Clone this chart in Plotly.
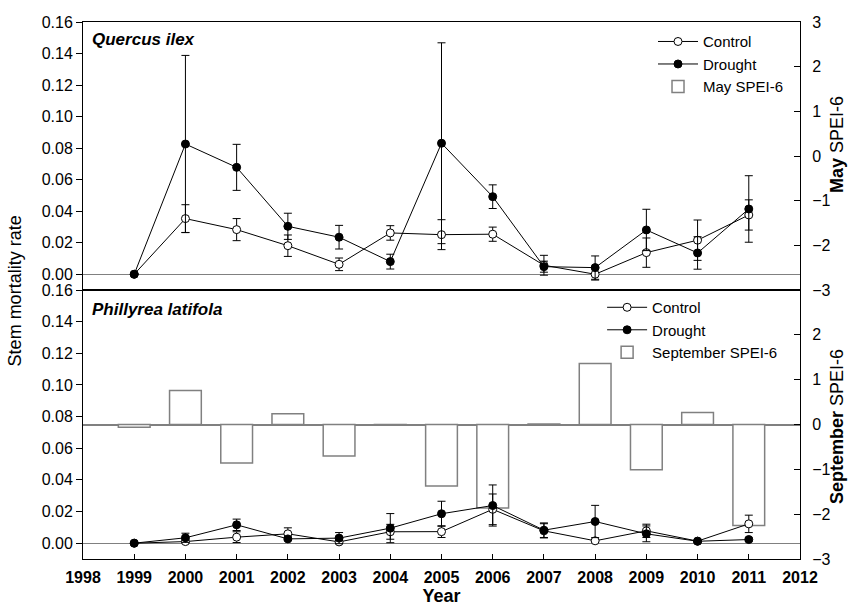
import plotly.graph_objects as go

years = [1999, 2000, 2001, 2002, 2003, 2004, 2005, 2006, 2007, 2008, 2009, 2010, 2011]

# Quercus ilex (top panel)
q_control = [0, 0.0353, 0.0283, 0.0181, 0.0063, 0.0262, 0.0251, 0.0254, 0.0057, 0.0, 0.0137, 0.0216, 0.0376]
q_control_se = [0, 0.0088, 0.0070, 0.0068, 0.0040, 0.0046, 0.0095, 0.0045, 0.0063, 0.0037, 0.0093, 0.0128, 0.0096]
q_drought = [0, 0.0826, 0.0678, 0.0304, 0.0235, 0.0080, 0.0831, 0.0492, 0.0048, 0.0042, 0.0281, 0.0135, 0.0414]
q_drought_se = [0, 0.0562, 0.0146, 0.0083, 0.0075, 0.0047, 0.0637, 0.0075, 0.0035, 0.0074, 0.0131, 0.0103, 0.0211]

# Phillyrea latifola (bottom panel)
p_control = [0, 0.0010, 0.0038, 0.0059, 0.0008, 0.0072, 0.0073, 0.0214, 0.0078, 0.0015, 0.0078, 0.0013, 0.0122]
p_control_se = [0, 0.0010, 0.0034, 0.0038, 0.0008, 0.0047, 0.0037, 0.0097, 0.0045, 0.0008, 0.0042, 0.0005, 0.0055]
p_drought = [0, 0.0034, 0.0116, 0.0027, 0.0032, 0.0095, 0.0186, 0.0238, 0.0082, 0.0137, 0.0059, 0.0012, 0.0023]
p_drought_se = [0, 0.0029, 0.0036, 0.0010, 0.0035, 0.0092, 0.0079, 0.0130, 0.0046, 0.0102, 0.0050, 0.0005, 0.0010]

# September SPEI-6 (bottom panel bars)
sept_spei = [-0.06, 0.76, -0.86, 0.24, -0.70, -0.01, -1.37, -1.86, 0.01, 1.36, -1.01, 0.27, -2.25]

mort_ticks = [0, 0.02, 0.04, 0.06, 0.08, 0.10, 0.12, 0.14, 0.16]
spei_ticks_top = [-3, -2, -1, 0, 1, 2, 3]
spei_ticks_bottom = [-3, -2, -1, 0, 1, 2]
year_ticks = list(range(1998, 2013))

FONT = "Liberation Sans, Arial, sans-serif"
GRAY = "#808080"

fig = go.Figure()

def err(se):
    return dict(type="data", array=se, visible=True, color="black", thickness=1, width=4)

# bottom panel bars on base axis (y), mortality on overlay (y2)
fig.add_trace(go.Bar(x=years, y=sept_spei, width=0.62, name="September SPEI-6",
                     marker=dict(color="white", line=dict(color=GRAY, width=1.5)),
                     xaxis="x", yaxis="y", legend="legend2", legendrank=3))
fig.add_trace(go.Scatter(x=years, y=p_control, error_y=err(p_control_se), mode="lines+markers",
                         name="Control", line=dict(color="black", width=1),
                         marker=dict(symbol="circle", size=8, color="white", line=dict(color="black", width=1)),
                         xaxis="x", yaxis="y2", legend="legend2", legendrank=1))
fig.add_trace(go.Scatter(x=years, y=p_drought, error_y=err(p_drought_se), mode="lines+markers",
                         name="Drought", line=dict(color="black", width=1),
                         marker=dict(symbol="circle", size=8, color="black", line=dict(color="black", width=1)),
                         xaxis="x", yaxis="y2", legend="legend2", legendrank=2))

# top panel (no May SPEI-6 bars are drawn in the reference, only its legend entry)
fig.add_trace(go.Bar(x=[None], y=[None], width=0.62, name="May SPEI-6",
                     marker=dict(color="white", line=dict(color=GRAY, width=1.5)),
                     xaxis="x2", yaxis="y3", legend="legend", legendrank=3))
fig.add_trace(go.Scatter(x=years, y=q_control, error_y=err(q_control_se), mode="lines+markers",
                         name="Control", line=dict(color="black", width=1),
                         marker=dict(symbol="circle", size=8, color="white", line=dict(color="black", width=1)),
                         xaxis="x2", yaxis="y4", legend="legend", legendrank=1))
fig.add_trace(go.Scatter(x=years, y=q_drought, error_y=err(q_drought_se), mode="lines+markers",
                         name="Drought", line=dict(color="black", width=1),
                         marker=dict(symbol="circle", size=8, color="black", line=dict(color="black", width=1)),
                         xaxis="x2", yaxis="y4", legend="legend", legendrank=2))

split = (559 - 290) / 537.0

mort_axis = dict(range=[-0.01, 0.16], tickvals=mort_ticks, tickformat=".2f", ticks="outside", ticklen=6,
                 tickcolor="black", showline=True, linecolor="black", linewidth=1, showgrid=False,
                 zeroline=True, zerolinecolor=GRAY, zerolinewidth=1, side="left",
                 tickfont=dict(family=FONT, size=16, color="black"))
spei_axis = dict(range=[-3, 3], ticks="inside", ticklen=6, tickcolor="black", showline=True,
                 linecolor="black", linewidth=1, showgrid=False, side="right",
                 tickfont=dict(family=FONT, size=16, color="black"), ticklabelstandoff=8)

fig.update_layout(
    width=848, height=606,
    margin=dict(l=83, r=48, t=22, b=47, autoexpand=False),
    paper_bgcolor="white", plot_bgcolor="white",
    font=dict(family=FONT, color="black"),
    barmode="overlay",
    xaxis=dict(domain=[0, 1], anchor="y", range=[1998, 2012], tickvals=year_ticks, ticks="inside",
               ticklen=5, tickcolor="black", showline=True, mirror=True, linecolor="black", linewidth=1,
               showgrid=False, zeroline=False, ticklabelstandoff=4,
               tickfont=dict(family=FONT, size=16, color="black", weight="bold"),
               title=dict(text="<b>Year</b>", font=dict(family=FONT, size=18, color="black"), standoff=20)),
    xaxis2=dict(domain=[0, 1], anchor="y3", matches="x", range=[1998, 2012], showticklabels=False,
                ticks="", showline=True, mirror=True, linecolor="black", linewidth=1, showgrid=False,
                zeroline=False),
    yaxis=dict(domain=[0, split], anchor="x", tickvals=spei_ticks_bottom, zeroline=True,
               zerolinecolor=GRAY, zerolinewidth=1.5, **spei_axis),
    yaxis2=dict(overlaying="y", anchor="x", **mort_axis),
    yaxis3=dict(domain=[split, 1], anchor="x2", tickvals=spei_ticks_top, zeroline=False, **spei_axis),
    yaxis4=dict(overlaying="y3", anchor="x2", **mort_axis),
    legend=dict(x=0.795, y=0.994, xanchor="left", yanchor="top", bgcolor="rgba(0,0,0,0)", itemwidth=40,
                font=dict(family=FONT, size=15, color="black"), tracegroupgap=0, traceorder="normal"),
    legend2=dict(x=0.724, y=0.499, xanchor="left", yanchor="top", bgcolor="rgba(0,0,0,0)", itemwidth=40,
                 font=dict(family=FONT, size=15, color="black"), tracegroupgap=0, traceorder="normal"),
    showlegend=True,
)

fig.add_annotation(text="Stem mortality rate", textangle=-90, xref="paper", yref="paper",
                   x=-0.095, y=0.5, xanchor="center", yanchor="middle", showarrow=False,
                   font=dict(family=FONT, size=18, color="black"))
fig.add_annotation(text="<b>May</b> SPEI-6", textangle=-90, xref="paper", yref="paper",
                   x=1.0 + (837 - 800) / 717.0, y=(559 - 145) / 537.0, xanchor="center", yanchor="middle",
                   showarrow=False, font=dict(family=FONT, size=18, color="black"))
fig.add_annotation(text="<b>September</b> SPEI-6", textangle=-90, xref="paper", yref="paper",
                   x=1.0 + (837 - 800) / 717.0, y=(559 - 427) / 537.0, xanchor="center", yanchor="middle",
                   showarrow=False, font=dict(family=FONT, size=18, color="black"))
fig.add_annotation(text="<b><i>Quercus ilex</i></b>", xref="paper", yref="paper",
                   x=(90 - 83) / 717.0, y=(559 - 39) / 537.0, xanchor="left", yanchor="middle",
                   showarrow=False, font=dict(family=FONT, size=17, color="black"))
fig.add_annotation(text="<b><i>Phillyrea latifola</i></b>", xref="paper", yref="paper",
                   x=(90 - 83) / 717.0, y=(559 - 309.5) / 537.0, xanchor="left", yanchor="middle",
                   showarrow=False, font=dict(family=FONT, size=17, color="black"))

fig.write_html("out.html", config={"displayModeBar": False},
               post_script="document.body.style.margin='0px';document.body.style.overflow='hidden';")
